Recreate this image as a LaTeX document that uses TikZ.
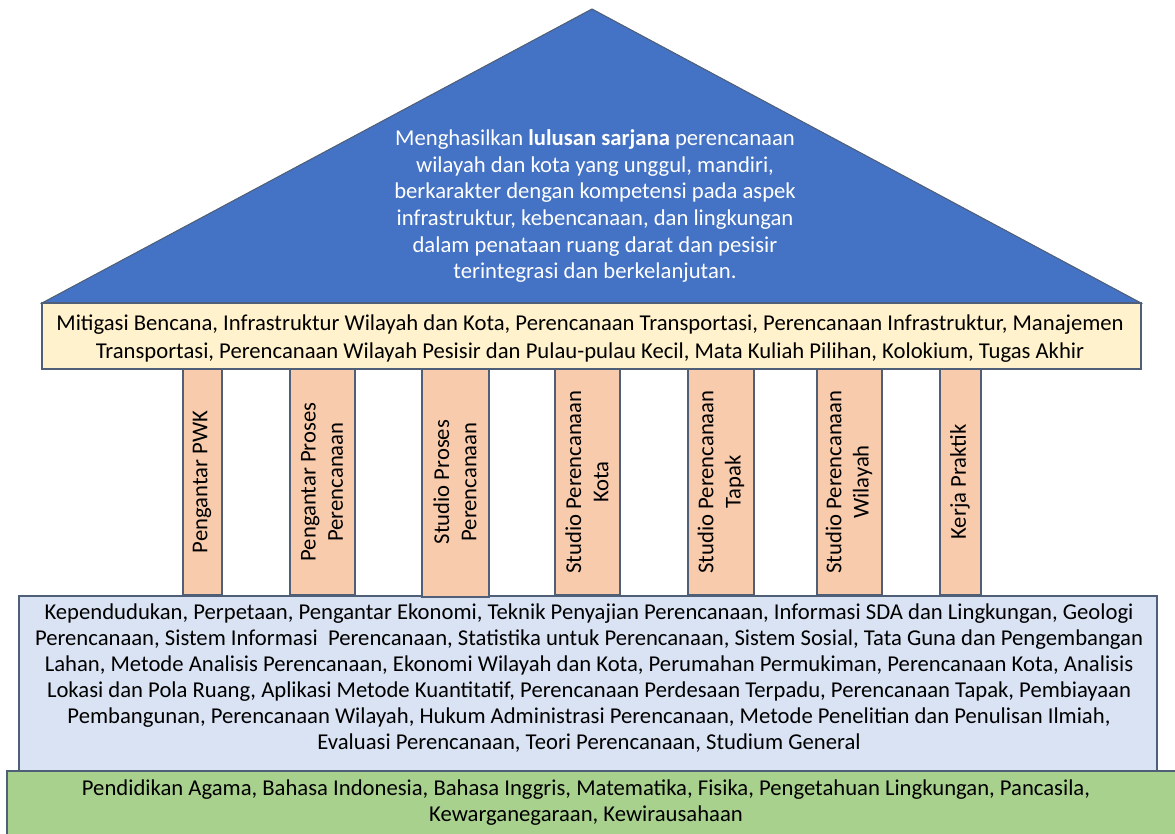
\documentclass[tikz,border=0pt]{standalone}
\usepackage{fontspec}
\setmainfont{Carlito}
\definecolor{roofblue}{HTML}{4472C4}
\definecolor{beamyellow}{HTML}{FFF2CC}
\definecolor{pillarpeach}{HTML}{F8CBAD}
\definecolor{baseblue}{HTML}{DAE3F3}
\definecolor{basegreen}{HTML}{A9D18E}
\definecolor{edgegray}{HTML}{4F5F78}
\begin{document}
\begin{tikzpicture}[x=0.75pt,y=-0.75pt,
  edge/.style={draw=edgegray,line width=1.1pt},
  bodytext/.style={font=\fontsize{17}{19.5}\selectfont,align=center,inner sep=0pt,text=black},
  roofttext/.style={font=\fontsize{17}{20}\selectfont,align=center,inner sep=0pt,text=white},
  pillartext/.style={font=\fontsize{17}{20.5}\selectfont,align=center,inner sep=0pt,rotate=90}]
\useasboundingbox (0,0) rectangle (1175,834);
\fill[white] (0,0) rectangle (1175,834);
% roof
\filldraw[fill=roofblue,draw=edgegray,line width=0.8pt] (42,303) -- (592,9) -- (1141,303) -- cycle;
% beam
\filldraw[fill=beamyellow,edge] (42,303) rectangle (1141,369);
% base blue
\filldraw[fill=baseblue,edge] (19,596) rectangle (1157,771);
% base green
\filldraw[fill=basegreen,edge] (7,771) rectangle (1185,845);
% pillars
\filldraw[fill=pillarpeach,edge] (183,369) rectangle (222,595);
\filldraw[fill=pillarpeach,edge] (290,369) rectangle (355,595);
\filldraw[fill=pillarpeach,edge] (422,369) rectangle (489,597);
\filldraw[fill=pillarpeach,edge] (555,369) rectangle (620,595);
\filldraw[fill=pillarpeach,edge] (688,369) rectangle (754,595);
\filldraw[fill=pillarpeach,edge] (817,369) rectangle (882,595);
\filldraw[fill=pillarpeach,edge] (940,369) rectangle (981,595);
% texts
\node[roofttext] (goal) at (595,206) {Menghasilkan \textbf{lulusan sarjana} perencanaan\\
wilayah dan kota yang unggul, mandiri,\\
berkarakter dengan kompetensi pada aspek\\
infrastruktur, kebencanaan, dan lingkungan\\
dalam penataan ruang darat dan pesisir\\
terintegrasi dan berkelanjutan.};
\node[bodytext,font=\fontsize{17}{21}\selectfont] (beam) at (590,339) {Mitigasi Bencana, Infrastruktur Wilayah dan Kota, Perencanaan Transportasi, Perencanaan Infrastruktur, Manajemen\\
Transportasi, Perencanaan Wilayah Pesisir dan Pulau-pulau Kecil, Mata Kuliah Pilihan, Kolokium, Tugas Akhir};
\node[pillartext] (p1) at (202,482) {Pengantar PWK};
\node[pillartext] (p2) at (322,482) {Pengantar Proses\\Perencanaan};
\node[pillartext] (p3) at (455,482) {Studio Proses\\Perencanaan};
\node[pillartext] (p4) at (587,482) {Studio Perencanaan\\Kota};
\node[pillartext] (p5) at (721,482) {Studio Perencanaan\\Tapak};
\node[pillartext] (p6) at (849,482) {Studio Perencanaan\\Wilayah};
\node[pillartext] (p7) at (960,482) {Kerja Praktik};
\node[bodytext] (core) at (589,678) {Kependudukan, Perpetaan, Pengantar Ekonomi, Teknik Penyajian Perencanaan, Informasi SDA dan Lingkungan, Geologi\\
Perencanaan, Sistem Informasi \ Perencanaan, Statistika untuk Perencanaan, Sistem Sosial, Tata Guna dan Pengembangan\\
Lahan, Metode Analisis Perencanaan, Ekonomi Wilayah dan Kota, Perumahan Permukiman, Perencanaan Kota, Analisis\\
Lokasi dan Pola Ruang, Aplikasi Metode Kuantitatif, Perencanaan Perdesaan Terpadu, Perencanaan Tapak, Pembiayaan\\
Pembangunan, Perencanaan Wilayah, Hukum Administrasi Perencanaan, Metode Penelitian dan Penulisan Ilmiah,\\
Evaluasi Perencanaan, Teori Perencanaan, Studium General};
\node[bodytext] (general) at (586,803) {Pendidikan Agama, Bahasa Indonesia, Bahasa Inggris, Matematika, Fisika, Pengetahuan Lingkungan, Pancasila,\\
Kewarganegaraan, Kewirausahaan};
\end{tikzpicture}
\end{document}
